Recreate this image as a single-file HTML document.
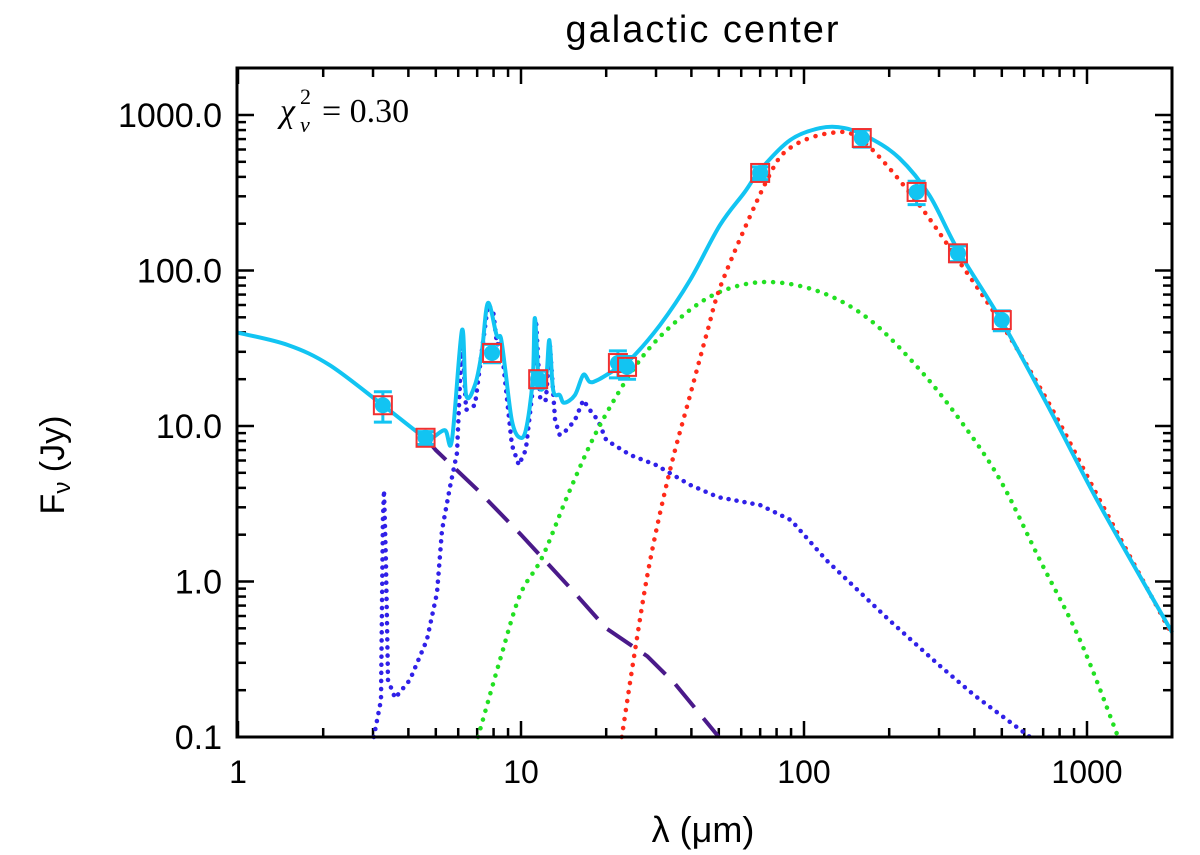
<!DOCTYPE html>
<html><head><meta charset="utf-8"><style>
html,body{margin:0;padding:0;background:#fff;}
svg{display:block;font-family:"Liberation Sans",sans-serif;}
</style></head><body>
<svg id="chart" width="1200" height="855" viewBox="0 0 1200 855" xmlns="http://www.w3.org/2000/svg">
<text x="703" y="42" font-size="38" text-anchor="middle" letter-spacing="2">galactic  center</text>
<g font-family="Liberation Serif, serif">
<text x="280" y="122" font-size="34" font-style="italic">χ</text>
<text x="300" y="104" font-size="22">2</text>
<text x="300" y="132" font-size="22" font-style="italic">ν</text>
<text x="322" y="122" font-size="34">= 0.30</text>
</g>
<text x="703" y="842" font-size="36" text-anchor="middle">λ (μm)</text>
<text transform="translate(64,465) rotate(-90)" font-size="34" text-anchor="middle">F<tspan font-size="24" dy="6">ν</tspan><tspan dy="-6"> (Jy)</tspan></text>
<g id="ticks"></g>
<g id="series"></g>
<g id="points"></g>
<rect x="237" y="68" width="935" height="669" fill="none" stroke="#000" stroke-width="3"/>
</svg>
<script>
const xTickVals = [1, 10, 100, 1000];
const xTickLabels = ["1", "10", "100", "1000"];
const yTickVals = [0.1, 1, 10, 100, 1000];
const yTickLabels = ["0.1", "1.0", "10.0", "100.0", "1000.0"];

const obsLam = [3.25, 4.6, 7.9, 11.5, 22, 23.7, 70, 160, 250, 350, 500];
const obsFlux = [13.6, 8.4, 29.5, 20, 25.4, 24, 424, 711, 320, 129, 48];
const obsErr = [3, 0.8, 4, 2.5, 5, 4, 40, 90, 55, 15, 7];

const totLam = [1,1.5,2.11,3.25,4.58,4.85,5.39,5.7,6.19,6.4,6.88,7.27,7.64,8.2,8.49,8.8,9.28,9.82,10.4,11.0,11.2,11.6,12.25,12.6,13.0,13.7,14.2,15.5,16.6,17.5,18.7,21.4,24.2,31,39.6,50.5,61.8,70,89.3,114,139,171,217,277,350,501,740,1110,2000];
const totFlux = [39.8,33.2,24.6,13.6,8.4,8.4,9.4,8.1,41.4,15.8,18.4,30,61.8,38.5,36.8,22.9,10.9,8.5,9.4,19.8,49.5,18.4,19.8,35.7,17,15.8,14.1,15.8,21.3,19.2,19.8,22.9,26.5,44.7,86.9,196,320,443,690,824,824,711,529,306,135,46.7,12.7,3.1,0.47];

const starLam = [4.6,5,7,10,15,20,28,35,50];
const starFlux = [8.4,7,3.9,2.0,0.9,0.5,0.33,0.22,0.1];

const pahLam = [3.02,3.20,3.25,3.28,3.33,3.39,3.59,4.05,4.65,5.05,5.26,5.61,5.94,6.19,6.40,6.88,7.28,7.64,7.96,8.23,8.49,8.78,9.29,9.82,10.4,11.0,11.3,11.7,12.25,12.65,13.2,13.7,14.5,15.5,16.6,17.5,18.7,20,24.3,30,39.6,49.7,70,90,120,200,300,399,629];
const pahFlux = [0.1,0.173,2.48,3.87,1.37,0.233,0.178,0.233,0.421,0.843,2.14,4.06,6.7,38.5,12.7,13.6,30.8,60,55.7,33.2,35.7,19.8,7.55,5.61,7.02,17.1,48.1,14.7,14.7,33.2,10.9,8.75,9.42,10.9,14.7,12.7,10.9,8.13,6.52,5.61,4.18,3.49,3.1,2.48,1.37,0.565,0.29,0.186,0.1];

const warmLam = [7.05,8.43,9.92,11.9,14.9,19.0,26.3,36.5,50.5,74,114,171,257,356,493,682,945,1288];
const warmFlux = [0.1,0.313,0.818,1.44,3.88,10.1,26.5,49.5,72.8,84.4,72.8,48.1,22.9,10.9,4.5,1.37,0.42,0.1];

const coldLam = [22.7,25.3,28.6,33.6,39.6,45.4,51.7,74,89.3,124,160,243,350,501,740,1110,2000];
const coldFlux = [0.1,0.363,1.37,5.2,15.8,39.6,86.9,382,614,766,690,297,117,44.7,13.6,3.34,0.453];

const X0 = 238, DEC_X = 283, Y10 = 426, DEC_Y = 155.5;
function xs(l){ return X0 + Math.log10(l) * DEC_X; }
function ys(f){ return Y10 - (Math.log10(f) - 1) * DEC_Y; }
const NS = "http://www.w3.org/2000/svg";
function mk(tag, attrs, parent){ const e = document.createElementNS(NS, tag); for (const k in attrs) e.setAttribute(k, attrs[k]); parent.appendChild(e); return e; }

const tg = document.getElementById('ticks');
const plotTop = 68, plotBot = 737, plotLeft = 237, plotRight = 1172;
for (let d = 0; d < 4; d++) {
  for (let m = 1; m <= 9; m++) {
    const v = Math.pow(10, d) * m; if (v > 2000) break;
    const x = xs(v); const L = m === 1 ? 16 : 9;
    const t1 = mk('line', {x1:x, x2:x, y1:plotBot, y2:plotBot-L, stroke:'#000', 'stroke-width':2.5}, tg);
    
    
    const t2 = mk('line', {x1:x, x2:x, y1:plotTop, y2:plotTop+L, stroke:'#000', 'stroke-width':2.5}, tg);
    
    
  }
}
xTickVals.forEach((v, i) => {
  const t = mk('text', {x:xs(v), y:783, 'font-size':32, 'text-anchor':'middle'}, tg);
  t.textContent = xTickLabels[i];
  
  
});
for (let d = -1; d <= 3; d++) {
  for (let m = 1; m <= 9; m++) {
    const v = Math.pow(10, d) * m; if (v > 2000) break;
    const y = ys(v); const L = m === 1 ? 17 : 9;
    const t1 = mk('line', {x1:plotLeft, x2:plotLeft+L, y1:y, y2:y, stroke:'#000', 'stroke-width':2.5}, tg);
    
    
    const t2 = mk('line', {x1:plotRight, x2:plotRight-L, y1:y, y2:y, stroke:'#000', 'stroke-width':2.5}, tg);
    
    
  }
}
yTickVals.forEach((v, i) => {
  const t = mk('text', {x:222, y:ys(v)+12, 'font-size':34, 'text-anchor':'end'}, tg);
  t.textContent = yTickLabels[i];
  
  
});

const sg = document.getElementById('series');
function path(lams, fl){ return lams.map((l, i) => (i ? 'L' : 'M') + xs(l).toFixed(1) + ',' + ys(fl[i]).toFixed(1)).join(' '); }
function smooth(lams, fl){
  const p = lams.map((l, i) => [xs(l), ys(fl[i])]);
  let d = 'M' + p[0][0].toFixed(1) + ',' + p[0][1].toFixed(1);
  for (let i = 0; i < p.length - 1; i++) {
    const p0 = p[Math.max(i-1,0)], p1 = p[i], p2 = p[i+1], p3 = p[Math.min(i+2,p.length-1)];
    const c1 = [p1[0] + (p2[0]-p0[0])/6, p1[1] + (p2[1]-p0[1])/6];
    const c2 = [p2[0] - (p3[0]-p1[0])/6, p2[1] - (p3[1]-p1[1])/6];
    d += ' C' + c1[0].toFixed(1) + ',' + c1[1].toFixed(1) + ' ' + c2[0].toFixed(1) + ',' + c2[1].toFixed(1) + ' ' + p2[0].toFixed(1) + ',' + p2[1].toFixed(1);
  }
  return d;
}
const sPah = mk('path', {d:path(pahLam, pahFlux), fill:'none', stroke:'#3020e8', 'stroke-width':4.5, 'stroke-dasharray':'0.1 8', 'stroke-linecap':'round'}, sg);


const sWarm = mk('path', {d:smooth(warmLam, warmFlux), fill:'none', stroke:'#22e022', 'stroke-width':4.5, 'stroke-dasharray':'0.1 9', 'stroke-linecap':'round'}, sg);


const sCold = mk('path', {d:smooth(coldLam, coldFlux), fill:'none', stroke:'#ff2a1a', 'stroke-width':4.5, 'stroke-dasharray':'0.1 9', 'stroke-linecap':'round'}, sg);


const sStar = mk('path', {d:path(starLam, starFlux), fill:'none', stroke:'#4a1a8a', 'stroke-width':4, 'stroke-dasharray':'30 14'}, sg);


const sTot = mk('path', {d:smooth(totLam, totFlux), fill:'none', stroke:'#12c4f2', 'stroke-width':4, 'stroke-linejoin':'round'}, sg);



const pg = document.getElementById('points');
obsLam.forEach((l, i) => {
  const x = xs(l), y = ys(obsFlux[i]);
  const y1 = ys(obsFlux[i] + obsErr[i]), y2 = ys(Math.max(obsFlux[i] - obsErr[i], 0.01));
  const g = mk('g', {}, pg);
  
  
  mk('line', {x1:x, x2:x, y1:y1, y2:y2, stroke:'#12c4f2', 'stroke-width':3}, g);
  mk('line', {x1:x-9, x2:x+9, y1:y1, y2:y1, stroke:'#12c4f2', 'stroke-width':3}, g);
  mk('line', {x1:x-9, x2:x+9, y1:y2, y2:y2, stroke:'#12c4f2', 'stroke-width':3}, g);
  mk('circle', {cx:x, cy:y, r:8, fill:'#12c4f2'}, g);
  mk('rect', {x:x-9, y:y-9, width:18, height:18, fill:'none', stroke:'#f03030', 'stroke-width':2}, g);
});
</script>
</body></html>
